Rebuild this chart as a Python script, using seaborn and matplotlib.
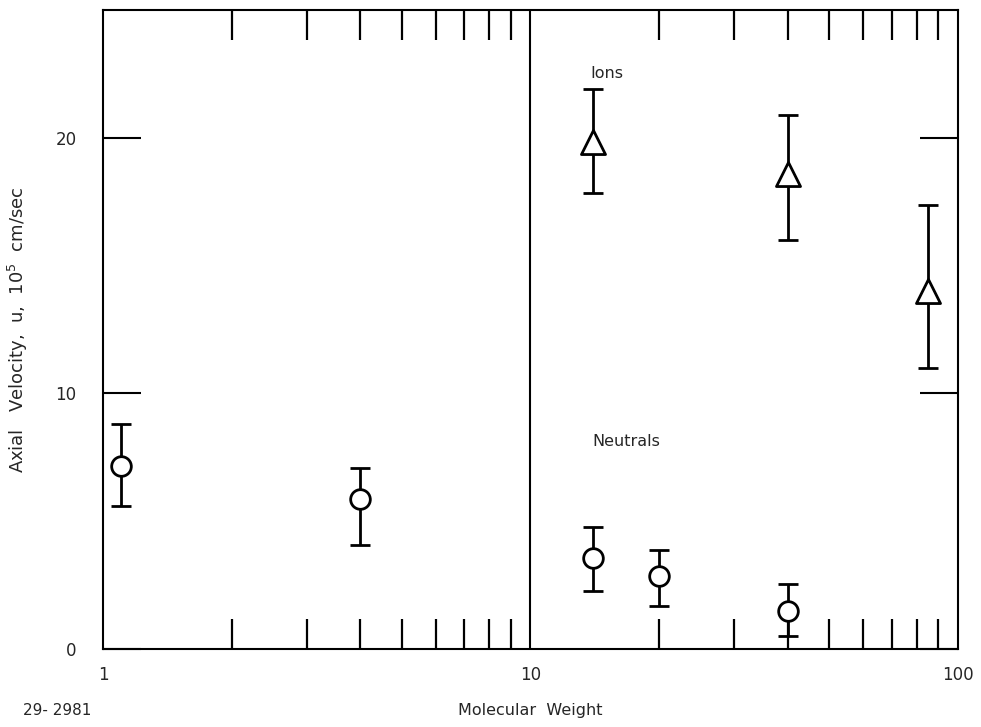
import matplotlib
matplotlib.use("Agg")
import matplotlib.pyplot as plt
import seaborn as sns
import pandas as pd
import numpy as np

# Neutral species: molecular weight, axial velocity and error bar limits (10^5 cm/sec)
neutral_mw = [1.1, 4, 14, 20, 40]
neutral_u = [7.15, 5.85, 3.55, 2.85, 1.5]
neutral_lo = [5.6, 4.05, 2.27, 1.69, 0.51]
neutral_hi = [8.8, 7.1, 4.78, 3.89, 2.54]

# Ions
ion_mw = [14, 40, 85]
ion_u = [19.85, 18.6, 14.0]
ion_lo = [17.85, 16.0, 11.0]
ion_hi = [21.9, 20.9, 17.37]

x_ticks = [1, 10, 100]
x_ticklabels = ["1", "10", "100"]
y_ticks = [0, 10, 20]

sns.set_theme(style="white")
plt.rcParams["font.family"] = ["DejaVu Sans"]

fig = plt.figure(figsize=(9.81, 7.27), dpi=100)
ax = fig.add_axes([0.105, 0.1073, 0.8715, 0.8789])

neutrals = pd.DataFrame({"mw": neutral_mw, "u": neutral_u,
                         "lo": neutral_lo, "hi": neutral_hi})
ions = pd.DataFrame({"mw": ion_mw, "u": ion_u, "lo": ion_lo, "hi": ion_hi})

for df in (neutrals, ions):
    ax.errorbar(df["mw"], df["u"],
                yerr=[df["u"] - df["lo"], df["hi"] - df["u"]],
                fmt="none", ecolor="black", elinewidth=2.0,
                capsize=7.5, capthick=2.0, zorder=2)

sns.scatterplot(data=neutrals, x="mw", y="u", marker="o", s=200,
                facecolor="white", edgecolor="black", linewidth=2.0,
                ax=ax, zorder=3)
sns.scatterplot(data=ions, x="mw", y="u", marker="^", s=300,
                facecolor="white", edgecolor="black", linewidth=2.0,
                ax=ax, zorder=3)

ax.set_xscale("log")
ax.set_xlim(1, 100)
ax.set_ylim(0, 25)

ax.axvline(10, color="black", linewidth=1.5, zorder=1)

ax.set_xticks(x_ticks)
ax.set_xticklabels(x_ticklabels)
ax.xaxis.set_minor_locator(matplotlib.ticker.LogLocator(base=10, subs=np.arange(2, 10)))
ax.xaxis.set_minor_formatter(matplotlib.ticker.NullFormatter())
ax.tick_params(axis="x", which="major", length=0, pad=12, labelsize=12)
ax.tick_params(axis="x", which="minor", direction="in", length=21.5,
               width=1.6, top=True, bottom=True, color="black")

ax.set_yticks(y_ticks)
ax.tick_params(axis="y", which="major", direction="in", length=27.5,
               width=1.5, left=True, right=True, pad=19, labelsize=12,
               color="black")

for spine in ax.spines.values():
    spine.set_visible(True)
    spine.set_color("black")
    spine.set_linewidth(1.5)

ax.set_xlabel("Molecular  Weight", fontsize=11.5)
ax.xaxis.set_label_coords(0.5, -0.085)
ax.set_ylabel(r"Axial   Velocity,  u,  10$^{5}$  cm/sec", fontsize=13)
ax.yaxis.set_label_coords(-0.085, 0.5)

ax.text(15.1, 22.5, "Ions", fontsize=11.5, ha="center", va="center")
ax.text(16.8, 8.1, "Neutrals", fontsize=11.5, ha="center", va="center")
fig.text(0.058, 0.013, "29- 2981", fontsize=11, ha="center", va="bottom")

fig.savefig("out.png", dpi=100, facecolor="white")
